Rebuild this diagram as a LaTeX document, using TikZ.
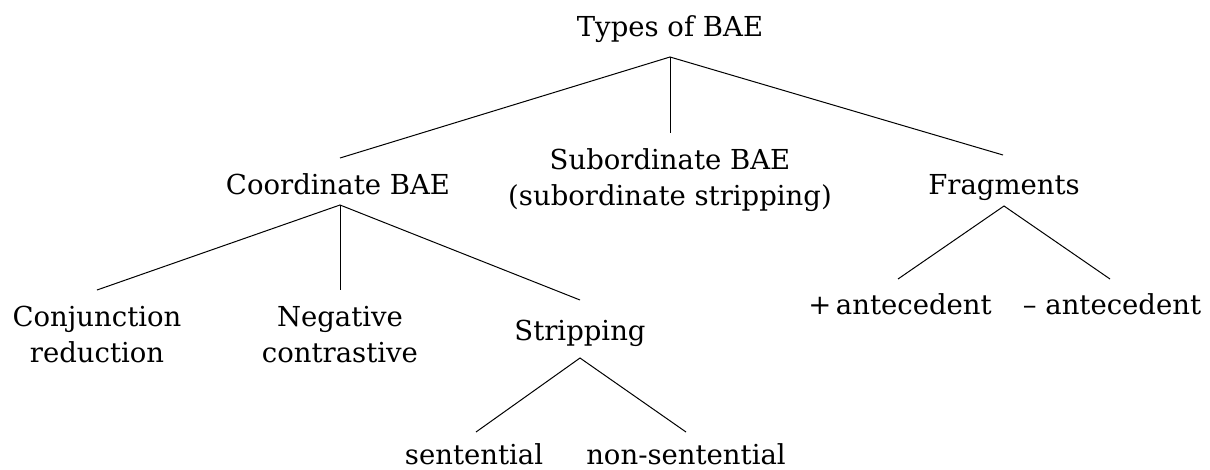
\documentclass[tikz,border=0pt]{standalone}
\usepackage{fontspec}
\setmainfont{DejaVu Serif}
\begin{document}
\begin{tikzpicture}[x=1pt,y=-1pt,
  lbl/.style={anchor=base,align=center,inner sep=0pt,
    font=\fontsize{27.5}{36}\selectfont},
  edge/.style={draw=black,line width=1pt}]
\useasboundingbox (0,0) rectangle (1210,469);

% tree labels, placed by the baseline of their last line
\node[lbl] (root)    at (670,36)  {Types of BAE};
\node[lbl] (coord)   at (338,194) {Coordinate BAE};
\node[lbl] (sub)     at (670,205) {Subordinate BAE\\(subordinate stripping)};
\node[lbl] (frag)    at (1004,194) {Fragments};
\node[lbl] (conj)    at (97,362)  {Conjunction\\reduction};
\node[lbl] (neg)     at (340,362) {Negative\\contrastive};
\node[lbl] (strip)   at (580,340) {Stripping};
\node[lbl] (sent)    at (474,464) {sentential};
\node[lbl] (nonsent) at (686,464) {non-sentential};
\node[lbl] (plus)    at (900,314) {+\,antecedent};
\node[lbl] (minus)   at (1112,314) {– antecedent};

% branch points
\coordinate (root-s)    at (670,57);
\coordinate (coord-n)   at (340,158);
\coordinate (sub-n)     at (670,133);
\coordinate (frag-n)    at (1003,155);
\coordinate (coord-s)   at (340,205);
\coordinate (conj-n)    at (97,290);
\coordinate (neg-n)     at (340,290);
\coordinate (strip-n)   at (580,300);
\coordinate (strip-s)   at (580,358);
\coordinate (sent-n)    at (476,432);
\coordinate (nonsent-n) at (686,432);
\coordinate (frag-s)    at (1004,206);
\coordinate (plus-n)    at (898,279);
\coordinate (minus-n)   at (1110,279);

\draw[edge] (coord-n) -- (root-s) -- (frag-n);
\draw[edge] (root-s) -- (sub-n);
\draw[edge] (conj-n) -- (coord-s) -- (strip-n);
\draw[edge] (coord-s) -- (neg-n);
\draw[edge] (sent-n) -- (strip-s) -- (nonsent-n);
\draw[edge] (plus-n) -- (frag-s) -- (minus-n);
\end{tikzpicture}
\end{document}
